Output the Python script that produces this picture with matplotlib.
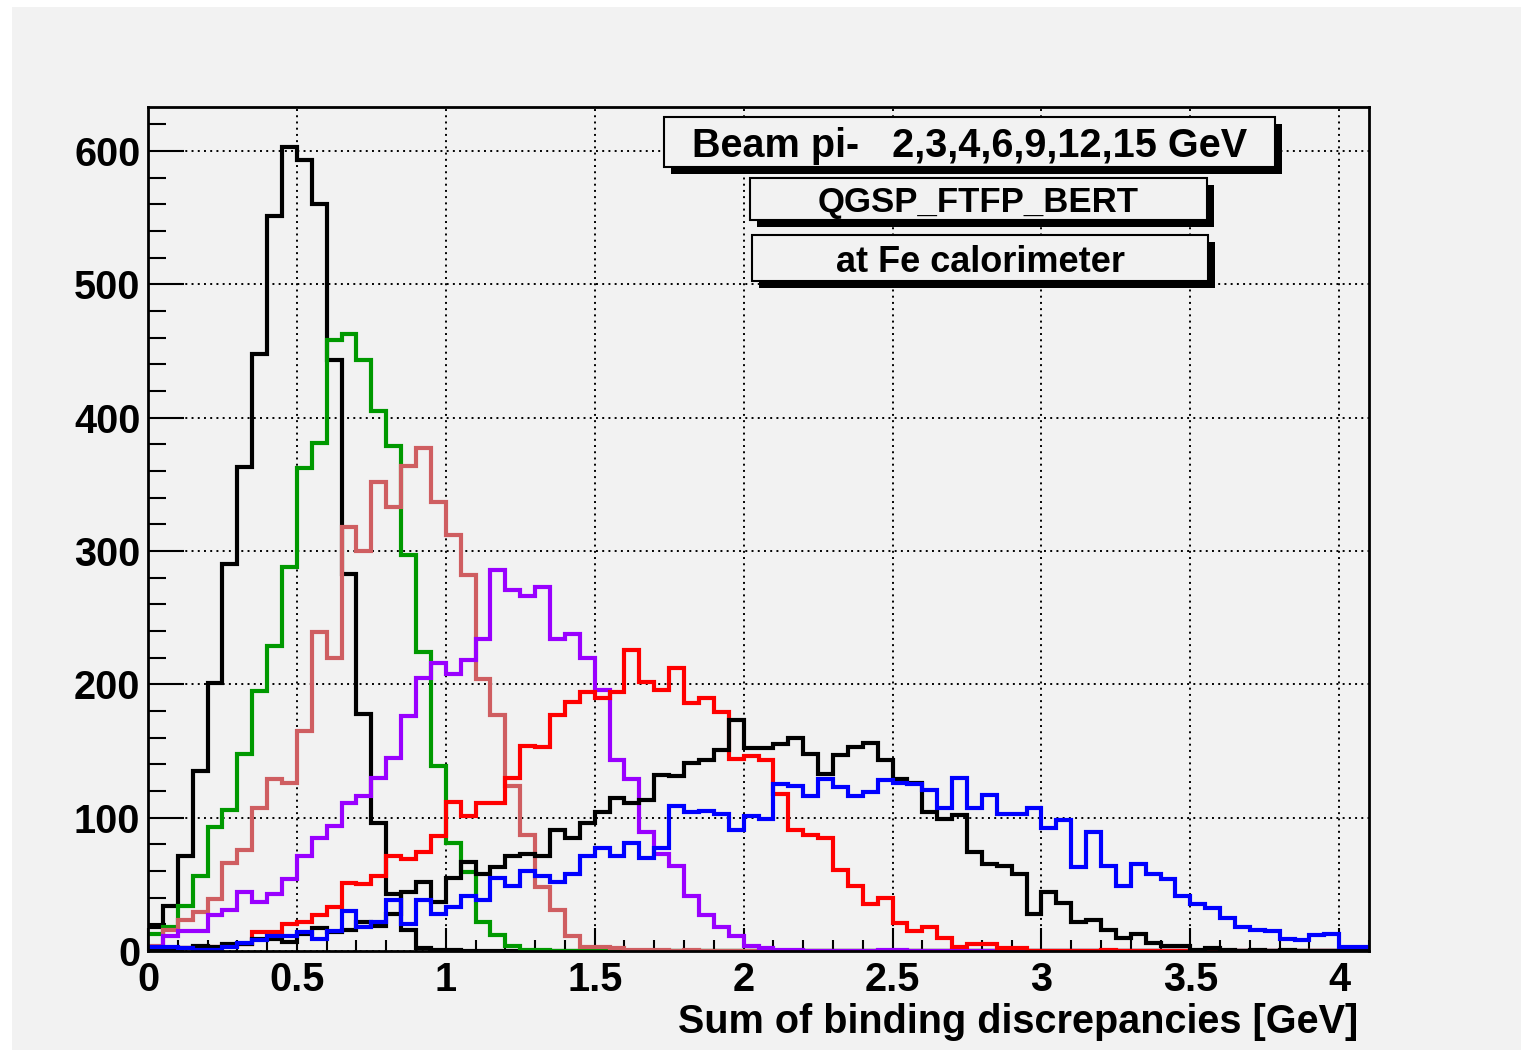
import numpy as np
import matplotlib
matplotlib.use("Agg")
import matplotlib.pyplot as plt
from matplotlib.patches import Rectangle
from matplotlib.ticker import MultipleLocator, FixedLocator, FixedFormatter

# ---- binning: 82 bins of 0.05 GeV from 0 to 4.1 GeV ----
x_min, x_max, bin_width = 0.0, 4.1, 0.05
edges = np.linspace(x_min, x_max, 83)

# ---- entries per bin, one histogram per beam energy ----
e2 = [18, 34, 71, 135, 201, 290, 363, 448, 551, 603,
      593, 560, 443, 283, 178, 96, 43, 16, 2, 1,
      1, 0, 0, 0, 0, 0, 0, 0, 0, 0,
      0, 0, 0, 0, 0, 0, 0, 0, 0, 0,
      0, 0, 0, 0, 0, 0, 0, 0, 0, 0,
      0, 0, 0, 0, 0, 0, 0, 0, 0, 0,
      0, 0, 0, 0, 0, 0, 0, 0, 0, 0,
      0, 0, 0, 0, 0, 0, 0, 0, 0, 0,
      0, 0]
e3 = [13, 18, 34, 56, 93, 106, 148, 195, 229, 288,
      362, 381, 458, 463, 443, 405, 379, 297, 224, 139,
      81, 59, 22, 12, 4, 1, 1, 0, 0, 0,
      0, 0, 0, 0, 0, 0, 0, 0, 0, 0,
      0, 0, 0, 0, 0, 0, 0, 0, 0, 0,
      0, 0, 0, 0, 0, 0, 0, 0, 0, 0,
      0, 0, 0, 0, 0, 0, 0, 0, 0, 0,
      0, 0, 0, 0, 0, 0, 0, 0, 0, 0,
      0, 0]
e4 = [4, 16, 23, 29, 39, 66, 76, 107, 129, 126,
      165, 239, 220, 318, 300, 352, 333, 364, 377, 337,
      312, 282, 204, 177, 124, 87, 48, 31, 11, 3,
      3, 2, 1, 1, 1, 0, 1, 0, 0, 0,
      0, 0, 0, 0, 0, 0, 0, 0, 0, 0,
      0, 0, 0, 0, 0, 0, 0, 0, 0, 0,
      0, 0, 0, 0, 0, 0, 0, 0, 0, 0,
      0, 0, 0, 0, 0, 0, 0, 0, 0, 0,
      0, 0]
e6 = [3, 11, 15, 15, 27, 31, 44, 37, 43, 54,
      71, 85, 94, 111, 116, 130, 145, 176, 205, 216,
      208, 218, 234, 286, 271, 266, 273, 234, 238, 220,
      196, 143, 129, 89, 73, 64, 41, 27, 18, 11,
      4, 2, 1, 1, 0, 0, 0, 0, 0, 1,
      1, 0, 0, 0, 0, 0, 0, 0, 0, 0,
      0, 0, 0, 0, 0, 0, 0, 0, 0, 0,
      0, 0, 0, 0, 0, 0, 0, 0, 0, 0,
      0, 0]
e9 = [1, 1, 2, 2, 3, 4, 5, 14, 14, 20,
      22, 27, 33, 51, 50, 56, 71, 69, 74, 86,
      112, 101, 111, 111, 130, 154, 153, 177, 187, 194,
      190, 194, 226, 202, 196, 212, 186, 190, 179, 144,
      146, 143, 118, 91, 87, 85, 61, 49, 35, 40,
      21, 15, 18, 10, 3, 5, 5, 2, 2, 0,
      0, 0, 0, 0, 1, 0, 0, 0, 0, 0,
      0, 0, 0, 0, 0, 0, 0, 0, 0, 0,
      0, 0]
e12 = [1, 1, 2, 4, 3, 5, 5, 9, 9, 7,
       13, 17, 14, 16, 22, 19, 28, 44, 52, 37,
       55, 67, 58, 63, 71, 73, 71, 91, 85, 96,
       104, 115, 111, 113, 132, 131, 141, 143, 151, 173,
       152, 152, 155, 160, 148, 133, 147, 153, 156, 143,
       129, 126, 104, 99, 102, 74, 65, 64, 58, 28,
       44, 36, 22, 23, 16, 10, 13, 6, 4, 4,
       1, 2, 1, 0, 1, 0, 1, 0, 0, 0,
       0, 0]
e15 = [3, 3, 2, 1, 1, 3, 6, 8, 11, 11,
       14, 9, 15, 30, 18, 22, 38, 20, 38, 28,
       33, 41, 38, 55, 49, 60, 56, 52, 58, 71,
       77, 71, 81, 70, 77, 109, 104, 105, 103, 91,
       101, 99, 125, 124, 116, 129, 123, 116, 119, 128,
       126, 125, 121, 107, 130, 107, 117, 103, 103, 107,
       92, 98, 63, 89, 64, 49, 65, 58, 54, 41,
       35, 32, 25, 18, 16, 15, 9, 8, 12, 13,
       3, 3]

series = [e2, e3, e4, e6, e9, e12, e15]
colors = ["#000000", "#009900", "#cf5e61", "#9900ff", "#ff0000", "#000000", "#0000ff"]

x_ticks = [0, 0.5, 1, 1.5, 2, 2.5, 3, 3.5, 4]
x_tick_labels = ["0", "0.5", "1", "1.5", "2", "2.5", "3", "3.5", "4"]
y_ticks = [0, 100, 200, 300, 400, 500, 600]
y_tick_labels = ["0", "100", "200", "300", "400", "500", "600"]
y_max = 633

x_title = "Sum of binding discrepancies [GeV]"
pave_texts = ["Beam pi-   2,3,4,6,9,12,15 GeV", "QGSP_FTFP_BERT", "at Fe calorimeter"]

# ---- figure ----
W, H, DPI = 1521, 1050, 100
FONT = "Liberation Sans"
BG = "#f2f2f2"

fig = plt.figure(figsize=(W / DPI, H / DPI), dpi=DPI, facecolor="white")


def fx(px):
    return px / W


def fy(py):
    return 1 - py / H


# canvas panel (behind the axes)
fig.patches.append(Rectangle((fx(12), fy(1050)), fx(1521) - fx(12), fy(7) - fy(1050),
                             transform=fig.transFigure, facecolor=BG, edgecolor="none", zorder=-1))

ax_l, ax_r, ax_t, ax_b = 148, 1369, 107, 951
ax = fig.add_axes([fx(ax_l), fy(ax_b), fx(ax_r) - fx(ax_l), fy(ax_t) - fy(ax_b)])
ax.set_facecolor(BG)

for vals, col in zip(series, colors):
    ax.stairs(vals, edges, color=col, linewidth=3.0, baseline=None, zorder=3)

ax.set_xlim(x_min, x_max)
ax.set_ylim(0, y_max)

ax.xaxis.set_major_locator(FixedLocator(x_ticks))
ax.xaxis.set_major_formatter(FixedFormatter(x_tick_labels))
ax.xaxis.set_minor_locator(MultipleLocator(0.1))
ax.yaxis.set_major_locator(FixedLocator(y_ticks))
ax.yaxis.set_major_formatter(FixedFormatter(y_tick_labels))
ax.yaxis.set_minor_locator(MultipleLocator(20))

ax.tick_params(axis="both", which="both", direction="in", top=False, right=False,
               width=1.5, color="black")
ax.tick_params(axis="x", which="major", length=16.5, pad=7)
ax.tick_params(axis="x", which="minor", length=8)
ax.tick_params(axis="y", which="major", length=26, pad=5.5)
ax.tick_params(axis="y", which="minor", length=13)

for lab in ax.get_xticklabels() + ax.get_yticklabels():
    lab.set_fontfamily(FONT)
    lab.set_fontweight("bold")
    lab.set_fontsize(28.5)

ax.grid(True, which="major", color="black", linestyle=(0, (1, 2.2)), linewidth=1.4)
ax.set_axisbelow(True)

for sp in ax.spines.values():
    sp.set_linewidth(2.0)
    sp.set_zorder(4)

ax.set_xlabel(x_title, fontfamily=FONT, fontweight="bold", fontsize=28.5)
ax.xaxis.label.set_ha("right")
ax.xaxis.label.set_va("baseline")
ax.xaxis.set_label_coords((1358 - ax_l) / (ax_r - ax_l), (ax_b - 1033) / (ax_b - ax_t))

# ---- text panes with drop shadow ----
panes = [
    # left, top, right, bottom (pixels), font size
    (664, 117, 1275, 167, 28.5),
    (750, 178, 1207, 220, 25),
    (752, 235, 1208, 281, 26),
]
shadow = 7
for (l, t, r, b, fs), txt in zip(panes, pave_texts):
    fig.patches.append(Rectangle((fx(l + shadow), fy(b + shadow)), fx(r - l), fy(t) - fy(b),
                                 transform=fig.transFigure, facecolor="black",
                                 edgecolor="none", zorder=5))
    fig.patches.append(Rectangle((fx(l), fy(b)), fx(r - l), fy(t) - fy(b),
                                 transform=fig.transFigure, facecolor=BG,
                                 edgecolor="black", linewidth=1.5, zorder=6))
    fig.text(fx((l + r) / 2), fy((t + b) / 2), txt, ha="center", va="center_baseline",
             fontfamily=FONT, fontweight="bold", fontsize=fs, zorder=7)

fig.savefig("out.png", dpi=DPI, facecolor="white")
